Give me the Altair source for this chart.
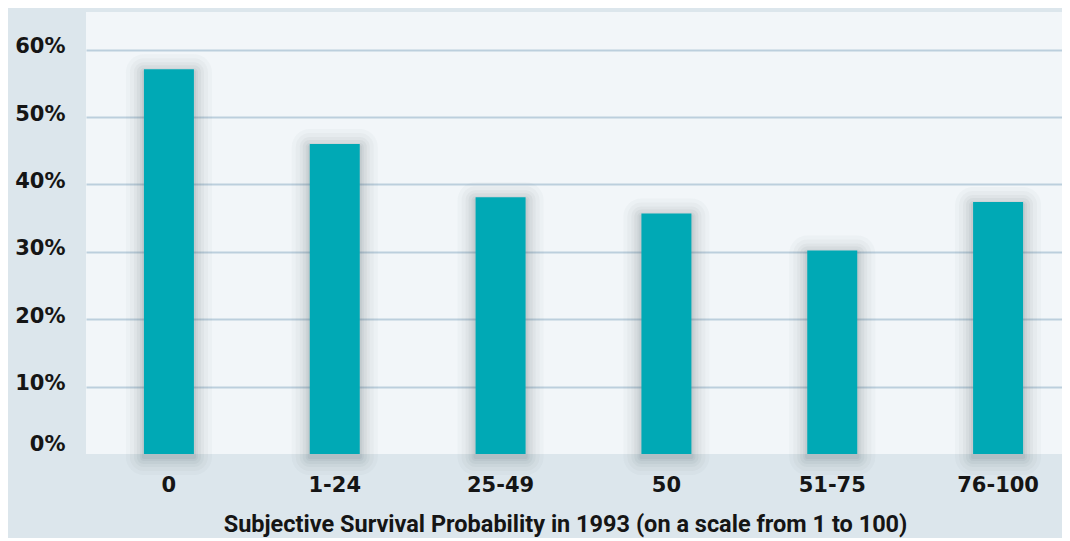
import altair as alt
import pandas as pd

categories = ["0", "1-24", "25-49", "50", "51-75", "76-100"]
shares = [0.571, 0.460, 0.381, 0.357, 0.302, 0.374]
y_ticks = [0, 0.1, 0.2, 0.3, 0.4, 0.5, 0.6]

df = pd.DataFrame({"cat": categories, "share": shares})

x_enc = alt.X(
    "cat:N",
    sort=categories,
    scale=alt.Scale(range=[0, 995], paddingInner=0, paddingOuter=0),
    axis=alt.Axis(
        title="Subjective Survival Probability in 1993 (on a scale from 1 to 100)",
        labelAngle=0,
        labelFont="DejaVu Sans",
        labelFontSize=21,
        labelFontWeight="bold",
        labelColor="#151515",
        labelPadding=20,
        domain=False,
        ticks=False,
        grid=False,
        titleFont="Roboto",
        titleFontSize=23.5,
        titleFontWeight="bold",
        titleColor="#151515",
        titleX=479,
        titleY=77,
        titleAlign="center",
        titleBaseline="alphabetic",
    ),
)

y_scale = alt.Scale(domain=[0, 0.656], nice=False, clamp=False)

base = alt.Chart(df)

layers = []
# soft shadow around bars
for d, op in [(18, 0.03), (14, 0.035), (10, 0.045), (7, 0.055), (4, 0.06), (2, 0.07)]:
    layers.append(
        base.mark_bar(
            size=50 + 2 * d,
            color="#4a5360",
            opacity=op,
            cornerRadius=d,
            yOffset=-d + 3,
            y2Offset=d + 3,
        ).encode(x=x_enc, y=alt.Y("share:Q", scale=y_scale), y2=alt.datum(0))
    )

bars = base.mark_bar(size=50, color="#00a9b5").encode(
    x=x_enc,
    y=alt.Y(
        "share:Q",
        scale=y_scale,
        axis=alt.Axis(
            title=None,
            values=y_ticks,
            format=".0%",
            labelFont="DejaVu Sans",
            labelFontSize=21,
            labelFontWeight="bold",
            labelColor="#151515",
            labelPadding=21,
            labelBaseline="middle",
            labelOffset=alt.condition("datum.value == 0", alt.value(-10), alt.value(-3)),
            domain=False,
            ticks=False,
            grid=True,
            gridColor="#bccfdd",
            gridWidth=2.2,
            gridOpacity=alt.condition("datum.value == 0", alt.value(0), alt.value(1)),
        ),
    ),
)

chart = (
    alt.layer(*layers, bars)
    .properties(
        width=976,
        height=442,
        autosize=alt.AutoSizeParams(type="none"),
        padding={"left": 78, "top": 4, "right": 0, "bottom": 84},
        background="#dce6ec",
    )
    .configure_view(fill="#f2f6f9", stroke=None)
)

chart.save("out.html", embed_options={"renderer": "svg", "actions": False})
